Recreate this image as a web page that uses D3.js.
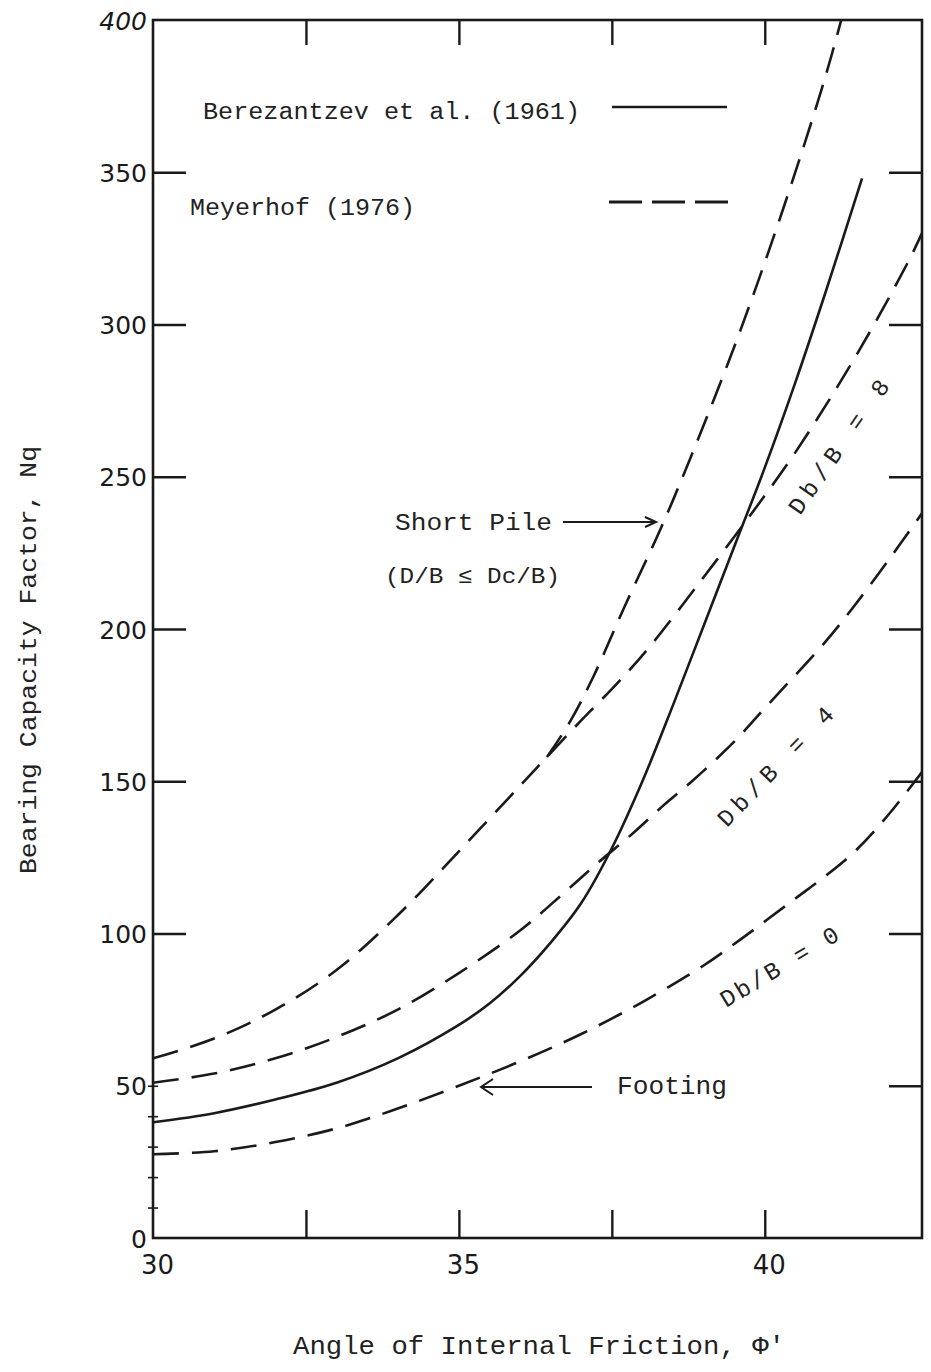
<!DOCTYPE html>
<html>
<head>
<meta charset="utf-8">
<script src="https://cdn.jsdelivr.net/npm/d3@7"></script>
<style>
  html, body { margin: 0; padding: 0; background: #fff; }
  svg { display: block; }
  .mono { font-family: "Liberation Mono", "DejaVu Sans Mono", monospace; fill: #222; }
</style>
</head>
<body>
<script>
// ---------------- data ----------------
const yTickLabels = [0, 50, 100, 150, 200, 250, 300, 350, 400];
const xTickLabels = [30, 35, 40];
const xTickMarks = [32.5, 35, 37.5, 40];
const leftTickMarks = [100, 150, 200, 250, 300, 350];
const rightTickMarks = [50, 100, 150, 200, 250, 300, 350];
const minorTickMarks = [10, 20, 30, 40, 50];

// Berezantzev et al. (1961) - solid
const berezPhi = [30, 31, 32, 33, 34, 35, 35.5, 36, 36.5, 37, 37.5, 38, 38.5, 39, 39.5, 40, 40.5, 41, 41.59];
const berezNq  = [38, 41, 45.5, 51, 59, 70, 77, 86, 97, 110, 128, 150, 175, 201, 227, 253, 281, 311, 348];

// Meyerhof (1976) - Db/B = 0 (footing)
const db0Phi = [30, 31, 32, 33, 34, 35, 36, 37, 38, 39, 39.6, 40.5, 41, 41.5, 42, 42.57];
const db0Nq  = [27.5, 28.5, 31.5, 36, 42.5, 50, 58, 67, 77.5, 89.5, 98, 111.5, 119, 127.5, 138.5, 153];

// Meyerhof (1976) - Db/B = 4
const db4Phi = [30, 31, 32, 33, 34, 35, 36, 36.7, 37.26, 37.85, 38.34, 38.81, 39.5, 40, 41, 41.44, 42, 42.57];
const db4Nq  = [51, 54, 59, 66, 75, 87, 101, 113, 123, 133, 142, 150, 163, 174, 196, 207, 222, 238];

// Meyerhof (1976) - Db/B = 8
const db8Phi = [30, 31, 32, 33, 34, 35, 36, 36.44, 37, 37.58, 38.07, 39, 39.86, 40.5, 41.5, 42.37, 42.57];
const db8Nq  = [59, 65.5, 75, 88, 106, 127, 148.5, 158, 170, 182, 193, 217, 240, 258, 290, 321.6, 330];

// Meyerhof (1976) - Short pile branch
const pilePhi = [36.44, 36.8, 37.19, 37.7, 38.3, 38.7, 39.2, 39.6, 40.08, 40.58, 41.0, 41.25];
const pileNq  = [158, 169, 184, 207, 233, 252, 277, 298, 325, 355, 382, 400];

// ---------------- drawing ----------------
const W = 931, H = 1372;
const svg = d3.select("body").append("svg").attr("width", W).attr("height", H);

const x = d3.scaleLinear().domain([30, 42.57]).range([153, 922]);
const y = d3.scaleLinear().domain([0, 400]).range([1238, 20]);

const ink = "#1a1a1a";

// frame
svg.append("rect")
  .attr("x", x(30)).attr("y", y(400))
  .attr("width", x(42.57) - x(30)).attr("height", y(0) - y(400))
  .attr("fill", "none").attr("stroke", ink).attr("stroke-width", 2.6);

function styleAxis(g) {
  g.select(".domain").remove();
  g.selectAll(".tick line").attr("stroke", ink).attr("stroke-width", 2.4);
}

// left tick marks (inward)
svg.append("g").attr("transform", `translate(${x(30)},0)`)
  .call(d3.axisLeft(y).tickValues(leftTickMarks).tickSizeInner(-33).tickSizeOuter(0).tickFormat(""))
  .call(styleAxis);
// minor small crosses on left axis
svg.append("g").attr("transform", `translate(${x(30) + 5},0)`)
  .call(d3.axisLeft(y).tickValues(minorTickMarks).tickSizeInner(10).tickSizeOuter(0).tickFormat(""))
  .call(styleAxis)
  .selectAll(".tick line").attr("stroke-width", 1.6);
// left labels
const leftLab = svg.append("g").attr("transform", `translate(${x(30) - 6},0)`)
  .call(d3.axisLeft(y).tickValues(yTickLabels).tickSize(0).tickPadding(0).tickFormat(d3.format("d")))
  .call(styleAxis);
leftLab.selectAll("text").attr("font-size", 25).attr("font-family", "DejaVu Sans")
  .attr("fill", ink).attr("dy", "0.36em")
  .attr("font-style", d => d === 400 ? "italic" : "normal");

// right tick marks (inward)
svg.append("g").attr("transform", `translate(${x(42.57)},0)`)
  .call(d3.axisRight(y).tickValues(rightTickMarks).tickSizeInner(-33).tickSizeOuter(0).tickFormat(""))
  .call(styleAxis);

// top tick marks (inward)
svg.append("g").attr("transform", `translate(0,${y(400)})`)
  .call(d3.axisTop(x).tickValues(xTickMarks).tickSizeInner(-25).tickSizeOuter(0).tickFormat(""))
  .call(styleAxis);

// bottom tick marks (inward)
svg.append("g").attr("transform", `translate(0,${y(0)})`)
  .call(d3.axisBottom(x).tickValues(xTickMarks).tickSizeInner(-28).tickSizeOuter(0).tickFormat(""))
  .call(styleAxis);
// bottom labels
const botLab = svg.append("g").attr("transform", `translate(0,${y(0)})`)
  .call(d3.axisBottom(x).tickValues(xTickLabels).tickSize(0).tickPadding(18).tickFormat(d3.format("d")))
  .call(styleAxis);
botLab.selectAll("text").attr("font-size", 26).attr("font-family", "DejaVu Sans").attr("fill", ink)
  .attr("transform", "translate(4,0)");

// curves
svg.append("clipPath").attr("id", "plotclip").append("rect")
  .attr("x", x(30)).attr("y", y(400)).attr("width", x(42.57) - x(30)).attr("height", y(0) - y(400));

const line = d3.line().x(d => x(d[0])).y(d => y(d[1])).curve(d3.curveCatmullRom.alpha(0.5));
const curves = [
  { phi: berezPhi, nq: berezNq, dash: null },
  { phi: db0Phi, nq: db0Nq, dash: "26,13" },
  { phi: db4Phi, nq: db4Nq, dash: "26,13" },
  { phi: db8Phi, nq: db8Nq, dash: "26,13" },
  { phi: pilePhi, nq: pileNq, dash: "26,13" }
];
const cg = svg.append("g").attr("clip-path", "url(#plotclip)");
curves.forEach(c => {
  cg.append("path")
    .datum(d3.zip(c.phi, c.nq))
    .attr("d", line)
    .attr("fill", "none")
    .attr("stroke", ink)
    .attr("stroke-width", 2.6)
    .attr("stroke-dasharray", c.dash);
});

// legend
svg.append("text").attr("class", "mono").attr("x", 203).attr("y", 119)
  .attr("font-size", 23).attr("textLength", 377).attr("lengthAdjust", "spacingAndGlyphs")
  .text("Berezantzev et al. (1961)");
svg.append("line").attr("x1", 612).attr("x2", 727).attr("y1", 107).attr("y2", 107)
  .attr("stroke", ink).attr("stroke-width", 2.6);
svg.append("text").attr("class", "mono").attr("x", 190).attr("y", 215)
  .attr("font-size", 23).attr("textLength", 225).attr("lengthAdjust", "spacingAndGlyphs")
  .text("Meyerhof (1976)");
svg.append("line").attr("x1", 609).attr("x2", 730).attr("y1", 202).attr("y2", 202)
  .attr("stroke", ink).attr("stroke-width", 2.8).attr("stroke-dasharray", "33,10");

// annotations
svg.append("text").attr("class", "mono").attr("x", 395).attr("y", 530)
  .attr("font-size", 24).attr("textLength", 157).attr("lengthAdjust", "spacingAndGlyphs")
  .text("Short Pile");
svg.append("path").attr("d", "M563,522 L656,522 M645,517 L656,522 L645,527")
  .attr("fill", "none").attr("stroke", ink).attr("stroke-width", 2);
svg.append("text").attr("class", "mono").attr("x", 385).attr("y", 583)
  .attr("font-size", 22).attr("textLength", 175).attr("lengthAdjust", "spacingAndGlyphs")
  .text("(D/B \u2264 Dc/B)");

svg.append("text").attr("class", "mono").attr("x", 617).attr("y", 1094)
  .attr("font-size", 26).attr("textLength", 110).attr("lengthAdjust", "spacingAndGlyphs")
  .text("Footing");
svg.append("path").attr("d", "M592,1087 L481,1087 M493,1079 L481,1087 L493,1095")
  .attr("fill", "none").attr("stroke", ink).attr("stroke-width", 2);

// rotated curve labels
const rotLabels = [
  { t: "Db/B = 8", x: 800, y: 516, a: -55, len: 158 },
  { t: "Db/B = 4", x: 727, y: 828, a: -46, len: 156 },
  { t: "Db/B = 0", x: 726, y: 1008, a: -31, len: 134 }
];
rotLabels.forEach(r => {
  svg.append("text").attr("class", "mono")
    .attr("transform", `translate(${r.x},${r.y}) rotate(${r.a})`)
    .attr("font-size", 24).attr("textLength", r.len).attr("lengthAdjust", "spacing")
    .text(r.t);
});

// axis titles
svg.append("text").attr("class", "mono").attr("x", 539).attr("y", 1354)
  .attr("text-anchor", "middle").attr("font-size", 25)
  .attr("textLength", 492).attr("lengthAdjust", "spacingAndGlyphs")
  .text("Angle of Internal Friction, \u03A6'");
svg.append("text").attr("class", "mono")
  .attr("transform", "translate(36,660) rotate(-90)")
  .attr("text-anchor", "middle").attr("font-size", 24)
  .attr("textLength", 428).attr("lengthAdjust", "spacingAndGlyphs")
  .text("Bearing Capacity Factor, Nq");
</script>
</body>
</html>
